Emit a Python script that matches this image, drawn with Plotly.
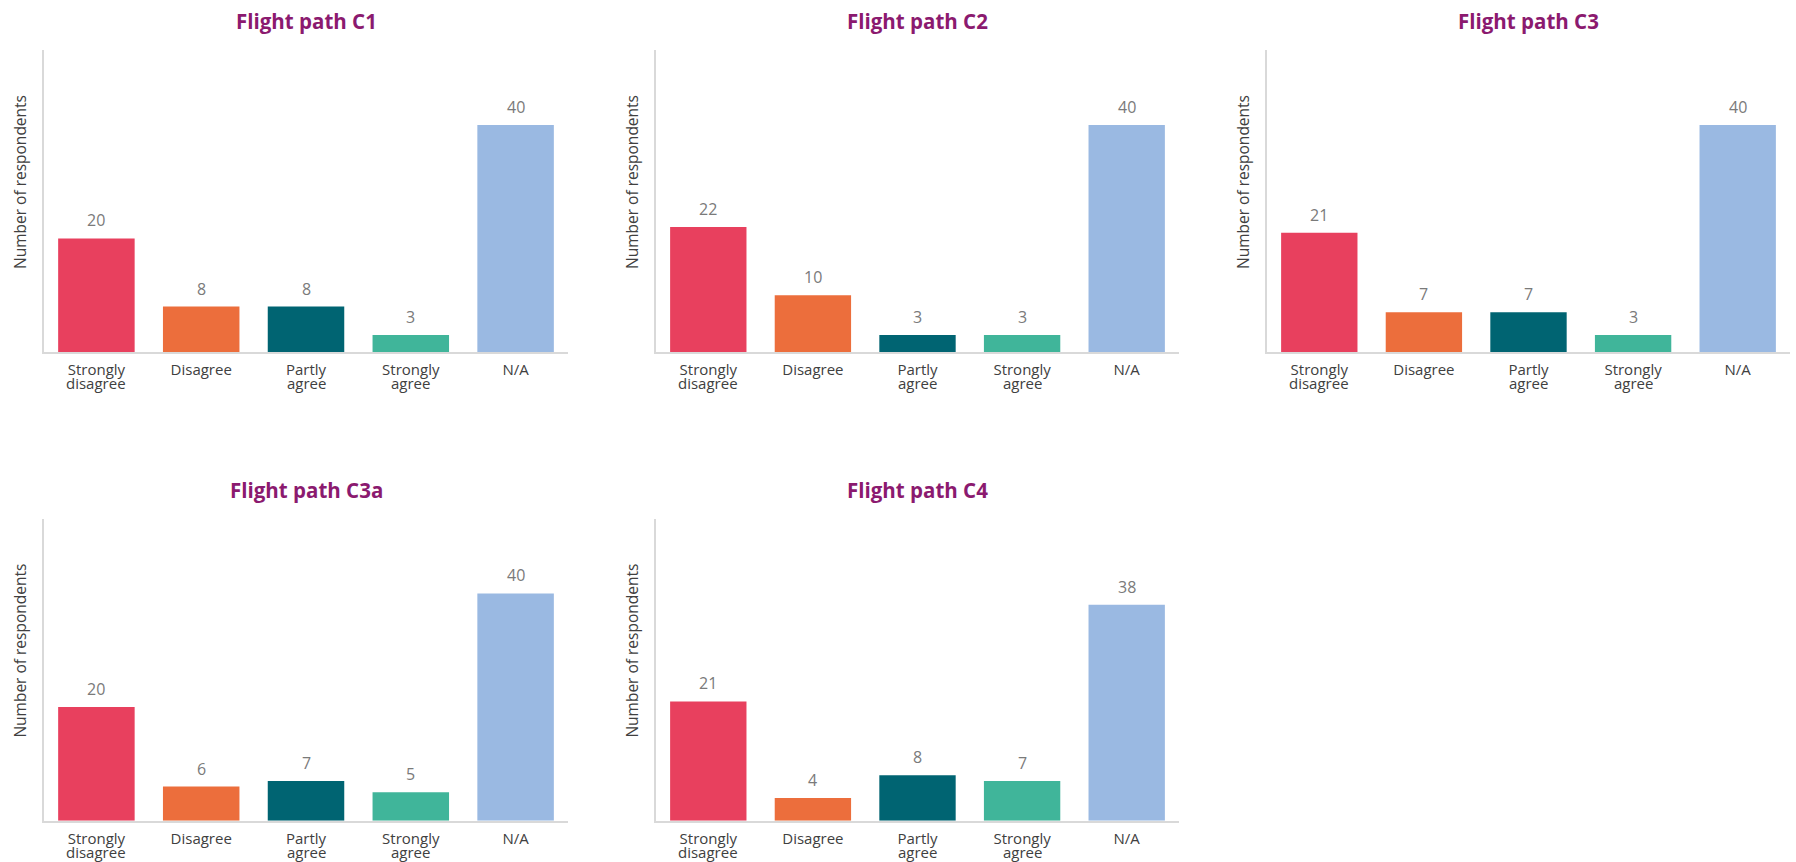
import plotly.graph_objects as go

categories = ["Strongly disagree", "Disagree", "Partly agree", "Strongly agree", "N/A"]
label_line1 = ["Strongly", "Disagree", "Partly", "Strongly", "N/A"]
label_line2 = ["disagree", "", "agree", "agree", ""]
titles = ["Flight path C1", "Flight path C2", "Flight path C3", "Flight path C3a", "Flight path C4"]
y_title = "Number of respondents"
c1 = [20, 8, 8, 3, 40]
c2 = [22, 10, 3, 3, 40]
c3 = [21, 7, 7, 3, 40]
c3a = [20, 6, 7, 5, 40]
c4 = [21, 4, 8, 7, 38]
series = [c1, c2, c3, c3a, c4]
colors = ["#E8405E", "#EC6E3C", "#006472", "#40B59A", "#9AB9E2"]

W, H = 1796, 862
col_px = [(44, 568), (656, 1179), (1267, 1790)]
row_px = [(50, 352), (518.5, 820.7)]
positions = [(0, 0), (0, 1), (0, 2), (1, 0), (1, 1)]

FONT = "Open Sans"
TXT = "#404040"
VAL = "#7A7A7A"
AX = "#D9D9D9"

fig = go.Figure()
annotations = []
layout = {}
for i, (vals, title, (r, c)) in enumerate(zip(series, titles, positions), start=1):
    xa = "x" if i == 1 else f"x{i}"
    ya = "y" if i == 1 else f"y{i}"
    fig.add_trace(go.Bar(x=categories, y=vals, marker=dict(color=colors, line=dict(width=0)),
                         xaxis=xa, yaxis=ya, showlegend=False, hoverinfo="x+y"))
    x0, x1 = col_px[c]
    y0, y1 = row_px[r]
    layout[f"xaxis{'' if i == 1 else i}"] = dict(
        domain=[x0 / W, x1 / W], anchor=ya, type="category",
        showline=True, linecolor=AX, linewidth=2, showgrid=False, zeroline=False,
        tickmode="array", tickvals=categories, ticktext=label_line1,
        ticks="", ticklabelstandoff=3,
        tickfont=dict(family=FONT, size=15, color=TXT), fixedrange=True)
    layout[f"yaxis{'' if i == 1 else i}"] = dict(
        domain=[1 - y1 / H, 1 - y0 / H], anchor=xa, range=[0, 53.2],
        showline=True, linecolor=AX, linewidth=1.5, showgrid=False, zeroline=False,
        showticklabels=False, ticks="", fixedrange=True)
    # y-axis title (placed slightly above the middle, as in the reference)
    annotations.append(dict(x=0, y=0.5, xref=f"{xa} domain", yref=f"{ya} domain",
                            text=y_title, textangle=-90, showarrow=False,
                            xanchor="center", yanchor="middle", xshift=-24, yshift=19,
                            font=dict(family=FONT, size=15.5, color=TXT)))
    # values above bars
    for cat, v in zip(categories, vals):
        annotations.append(dict(x=cat, y=v, xref=xa, yref=ya, text=str(v), showarrow=False,
                                yanchor="bottom", yshift=5,
                                font=dict(family=FONT, size=16, color=VAL)))
    # second line of category labels
    for cat, l2 in zip(categories, label_line2):
        if l2:
            annotations.append(dict(x=cat, y=0, xref=xa, yref=f"{ya} domain", text=l2,
                                    showarrow=False, yanchor="top", yshift=-19,
                                    font=dict(family=FONT, size=15, color=TXT)))
    # panel title
    annotations.append(dict(x=0.5, y=1, xref=f"{xa} domain", yref=f"{ya} domain",
                            text=f"<b>{title}</b>", showarrow=False, yanchor="middle",
                            yshift=29, font=dict(family=FONT, size=20.5, color="#8B1A6F")))

fig.update_layout(width=W, height=H, margin=dict(l=0, r=0, t=0, b=0),
                  paper_bgcolor="white", plot_bgcolor="white", bargap=0.27,
                  annotations=annotations, **layout)
fig.write_html("out.html", config={"displayModeBar": False},
               post_script="document.body.style.margin='0';")
